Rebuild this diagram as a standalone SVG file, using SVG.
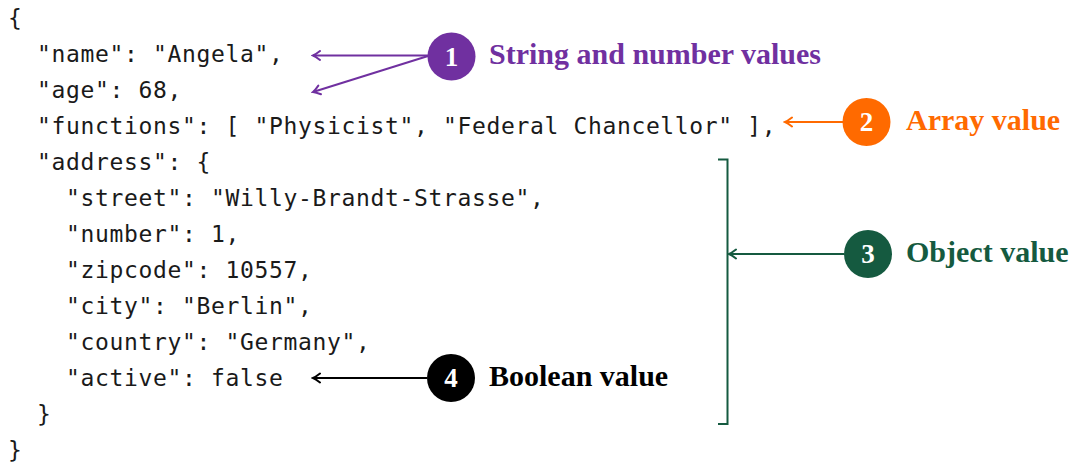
<svg xmlns="http://www.w3.org/2000/svg" width="1072" height="464" viewBox="0 0 1072 464">
  <style>
    .code { font-family: "DejaVu Sans Mono", "Liberation Mono", monospace; font-size: 23px; letter-spacing: 0.65px; fill: #1a1a1a; white-space: pre; }
    .lbl { font-family: "Liberation Serif", "DejaVu Serif", serif; font-weight: bold; font-size: 30px; }
    .num { font-family: "Liberation Serif", "DejaVu Serif", serif; font-weight: bold; font-size: 27px; fill: #fff; text-anchor: middle; }
    .purple { fill: #7030a0; }
    .orange { fill: #ff6a00; }
    .green { fill: #155a40; }
    .black { fill: #000; }
    .conn { fill: none; stroke-width: 2; }
  </style>
  <defs>
    <marker id="ah-purple" markerUnits="userSpaceOnUse" viewBox="-10 -6 12 12" refX="0" refY="0" markerWidth="12" markerHeight="12" orient="auto">
      <path d="M-7,-4.5 Q-2.5,-1 0,0 Q-2.5,1 -7,4.5" fill="none" stroke="#7030a0" stroke-width="2" stroke-linecap="round"/>
    </marker>
    <marker id="ah-orange" markerUnits="userSpaceOnUse" viewBox="-10 -6 12 12" refX="0" refY="0" markerWidth="12" markerHeight="12" orient="auto">
      <path d="M-7,-4.5 Q-2.5,-1 0,0 Q-2.5,1 -7,4.5" fill="none" stroke="#ff6a00" stroke-width="2" stroke-linecap="round"/>
    </marker>
    <marker id="ah-green" markerUnits="userSpaceOnUse" viewBox="-10 -6 12 12" refX="0" refY="0" markerWidth="12" markerHeight="12" orient="auto">
      <path d="M-7,-4.5 Q-2.5,-1 0,0 Q-2.5,1 -7,4.5" fill="none" stroke="#155a40" stroke-width="2" stroke-linecap="round"/>
    </marker>
    <marker id="ah-black" markerUnits="userSpaceOnUse" viewBox="-10 -6 12 12" refX="0" refY="0" markerWidth="12" markerHeight="12" orient="auto">
      <path d="M-7,-4.5 Q-2.5,-1 0,0 Q-2.5,1 -7,4.5" fill="none" stroke="#000" stroke-width="2" stroke-linecap="round"/>
    </marker>
  </defs>
  <rect width="1072" height="464" fill="#fff"/>

  <!-- JSON listing -->
  <g id="code">
    <text class="code" x="8" y="26">{</text>
    <text class="code" x="8" y="62">  "name": "Angela",</text>
    <text class="code" x="8" y="98">  "age": 68,</text>
    <text class="code" x="8" y="134">  "functions": [ "Physicist", "Federal Chancellor" ],</text>
    <text class="code" x="8" y="170">  "address": {</text>
    <text class="code" x="8" y="206">    "street": "Willy-Brandt-Strasse",</text>
    <text class="code" x="8" y="242">    "number": 1,</text>
    <text class="code" x="8" y="278">    "zipcode": 10557,</text>
    <text class="code" x="8" y="314">    "city": "Berlin",</text>
    <text class="code" x="8" y="350">    "country": "Germany",</text>
    <text class="code" x="8" y="386">    "active": false</text>
    <text class="code" x="8" y="422">  }</text>
    <text class="code" x="8" y="458">}</text>
  </g>

  <!-- connectors -->
  <g id="connectors">
    <line class="conn" stroke="#7030a0" x1="428" y1="55.5" x2="313" y2="55.5" marker-end="url(#ah-purple)"/>
    <line class="conn" stroke="#7030a0" x1="428" y1="56" x2="313" y2="92" marker-end="url(#ah-purple)"/>
    <line class="conn" stroke="#ff6a00" x1="843" y1="122" x2="785" y2="122" marker-end="url(#ah-orange)"/>
    <path class="conn" stroke="#155a40" d="M718,159.5 H727.5 V424 H718"/>
    <line class="conn" stroke="#155a40" x1="844" y1="254" x2="729" y2="254" marker-end="url(#ah-green)"/>
    <line class="conn" stroke="#000" x1="427" y1="378" x2="313" y2="378" marker-end="url(#ah-black)"/>
  </g>

  <!-- callouts -->
  <g id="callout-1">
    <circle cx="451.5" cy="56.5" r="24" class="purple"/>
    <text class="num" x="451.5" y="65.5">1</text>
    <text class="lbl purple" x="489" y="64">String and number values</text>
  </g>
  <g id="callout-2">
    <circle cx="866.5" cy="122" r="24" class="orange"/>
    <text class="num" x="866.5" y="131">2</text>
    <text class="lbl orange" x="906" y="130">Array value</text>
  </g>
  <g id="callout-3">
    <circle cx="868" cy="254" r="24" class="green"/>
    <text class="num" x="868" y="263">3</text>
    <text class="lbl green" x="906" y="262">Object value</text>
  </g>
  <g id="callout-4">
    <circle cx="451" cy="378" r="24" class="black"/>
    <text class="num" x="451" y="387">4</text>
    <text class="lbl black" x="489" y="386">Boolean value</text>
  </g>
</svg>
